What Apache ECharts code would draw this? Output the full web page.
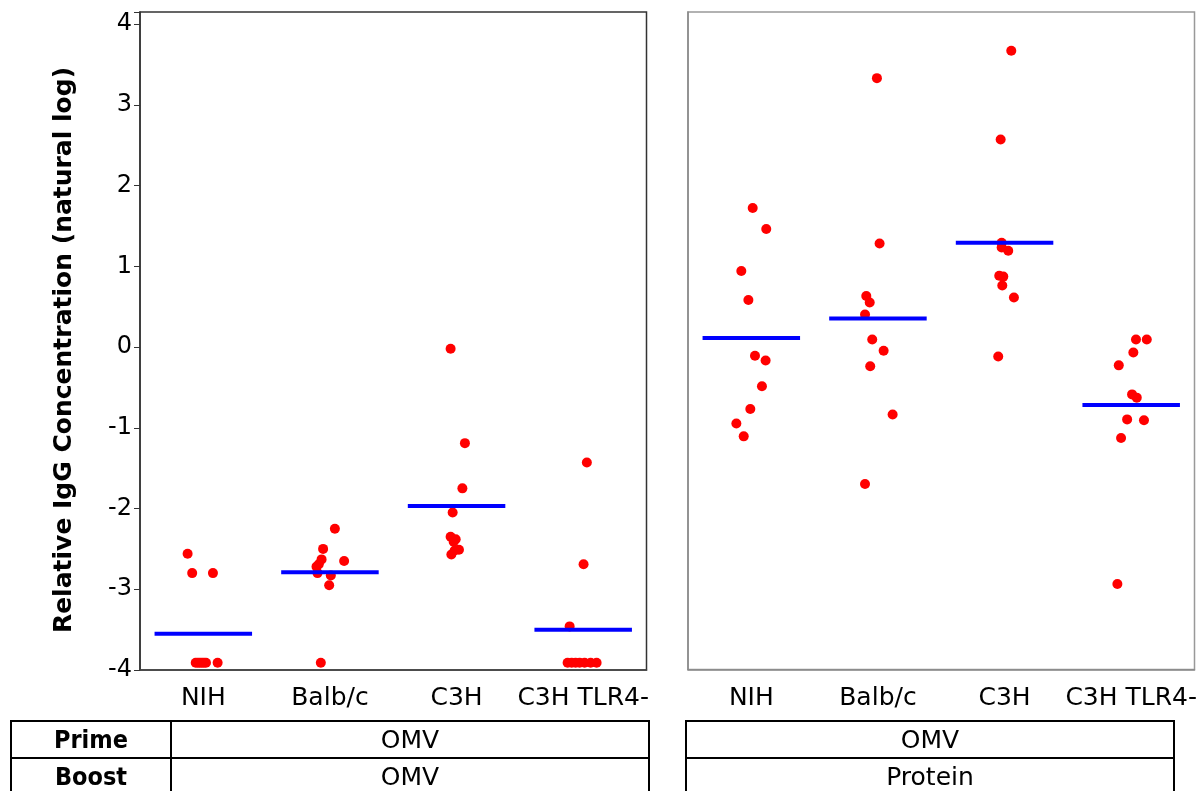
<!DOCTYPE html>
<html>
<head>
<meta charset="utf-8">
<script src="https://cdn.jsdelivr.net/npm/echarts@6/dist/echarts.min.js"></script>
<style>
  html, body { margin: 0; padding: 0; background: #fff; }
  #chart { width: 1201px; height: 791px; }
</style>
</head>
<body>
<div id="chart"></div>
<script>
// Mouse strains on the x axis of both panels
const strains = ['NIH', 'Balb/c', 'C3H', 'C3H TLR4-'];
const yTitle = 'Relative IgG Concentration (natural log)';

// Table under the panels: prime / boost regimen for each panel
const regimenRows = ['Prime', 'Boost'];
const primeByPanel = ['OMV', 'OMV'];
const boostByPanel = ['OMV', 'Protein'];

// Panel 1: OMV prime, OMV boost (natural-log relative IgG)
const omvNIH  = [-2.56, -2.80, -2.80, -3.91, -3.91, -3.91, -3.91, -3.91, -3.91, -3.91];
const omvBalb = [-2.25, -2.50, -2.63, -2.65, -2.72, -2.80, -2.83, -2.95, -3.91, -2.69];
const omvC3H  = [-0.02, -1.19, -1.75, -2.05, -2.35, -2.41, -2.51, -2.57, -2.38, -2.52];
const omvTLR4 = [-1.43, -2.69, -3.46, -3.91, -3.91, -3.91, -3.91, -3.91, -3.91, -3.91];
const omvMeans = [-3.55, -2.79, -1.97, -3.50];

// Panel 2: OMV prime, protein boost
const protNIH  = [1.72, 1.46, 0.94, 0.58, -0.11, -0.17, -0.49, -0.77, -0.95, -1.11];
const protBalb = [3.33, 1.28, 0.63, 0.55, 0.40, 0.09, -0.05, -0.24, -0.84, -1.70];
const protC3H  = [3.67, 2.57, 1.29, 1.23, 1.19, 0.88, 0.87, 0.76, 0.61, -0.12];
const protTLR4 = [0.09, 0.09, -0.07, -0.23, -0.59, -0.63, -0.90, -0.91, -1.13, -2.94];
const protMeans = [0.11, 0.35, 1.29, -0.72];

// Horizontal jitter of each animal, in category units
const omvNIHJit  = [-0.124, -0.088, 0.076, -0.06, -0.043, -0.027, -0.011, 0.005, 0.021, 0.113];
const omvBalbJit = [0.039, -0.054, -0.066, 0.112, -0.106, -0.098, 0.007, -0.006, -0.072, -0.088];
const omvC3HJit  = [-0.047, 0.066, 0.046, -0.031, -0.047, -0.023, 0.019, -0.041, -0.007, -0.015];
const omvTLR4Jit = [0.029, 0.003, -0.107, -0.123, -0.091, -0.06, -0.028, 0.011, 0.059, 0.106];
const protNIHJit  = [0.011, 0.118, -0.079, -0.023, 0.029, 0.113, 0.084, -0.008, -0.118, -0.06];
const protBalbJit = [-0.008, 0.013, -0.092, -0.065, -0.102, -0.045, 0.045, -0.061, 0.116, -0.102];
const protC3HJit  = [0.053, -0.031, -0.023, -0.023, 0.029, -0.042, -0.01, -0.018, 0.074, -0.05];
const protTLR4Jit = [0.038, 0.123, 0.017, -0.098, 0.007, 0.044, -0.032, 0.101, -0.08, -0.109];

const FONT = "'DejaVu Sans', sans-serif";
const FONT_COND = "'DejaVu Sans Condensed', 'DejaVu Sans', sans-serif";

function points(groups, jitters) {
  const out = [];
  groups.forEach((vals, gi) => {
    vals.forEach((v, k) => out.push([gi + jitters[gi][k], v]));
  });
  return out;
}

const omvPoints = points([omvNIH, omvBalb, omvC3H, omvTLR4],
                         [omvNIHJit, omvBalbJit, omvC3HJit, omvTLR4Jit]);
const protPoints = points([protNIH, protBalb, protC3H, protTLR4],
                          [protNIHJit, protBalbJit, protC3HJit, protTLR4Jit]);

const MEAN_HALF = 0.385;

// Group mean drawn as a short horizontal bar centred on its category
function meanBar(params, api) {
  const x = api.value(0), y = api.value(1);
  const a = api.coord([x - MEAN_HALF, y]);
  const b = api.coord([x + MEAN_HALF, y]);
  return {
    type: 'line',
    shape: { x1: a[0], y1: a[1], x2: b[0], y2: b[1] },
    style: { stroke: '#0000ff', lineWidth: 4 }
  };
}

function catAxis(gridIndex, lineColor) {
  return {
    type: 'category', gridIndex, data: strains, boundaryGap: true,
    axisLine: { onZero: false, lineStyle: { color: lineColor, width: 1.5 } },
    axisTick: { alignWithLabel: true, length: 8, lineStyle: { color: lineColor } },
    axisLabel: { interval: 0, color: '#000', fontSize: 25, fontFamily: FONT, margin: 16 },
    splitLine: { show: false }
  };
}
function valXAxis(gridIndex) {
  return {
    type: 'value', gridIndex, min: -0.5, max: 3.5, show: false,
    axisLine: { onZero: false }, splitLine: { show: false }
  };
}
function yAxis(gridIndex, withLabels, lineColor) {
  return {
    type: 'value', gridIndex, min: -4, max: 4.15, interval: 1,
    axisLine: { show: true, onZero: false, lineStyle: { color: lineColor, width: 1.5 } },
    axisTick: { show: withLabels, length: 6, lineStyle: { color: lineColor } },
    axisLabel: {
      show: withLabels, color: '#000', fontSize: 24, fontFamily: FONT, margin: 8,
      formatter: v => (Math.abs(v - Math.round(v)) < 1e-6 ? String(Math.round(v)) : '')
    },
    splitLine: { show: false }
  };
}

const chart = echarts.init(document.getElementById('chart'), null, { renderer: 'canvas' });

const graphics = [];

// Rotated y-axis title
graphics.push({
  type: 'text', x: 64, y: 350, rotation: Math.PI / 2,
  style: { text: yTitle, fill: '#000', font: 'bold 25px ' + FONT, align: 'center', verticalAlign: 'middle' }
});

// Table under the panels
const tableTop = 721, rowH = 37;
const tables = [
  { x: 11, w: 638, labelCol: 160 },
  { x: 686, w: 488, labelCol: 0 }
];
tables.forEach((t, pi) => {
  graphics.push({
    type: 'rect', shape: { x: t.x, y: tableTop, width: t.w, height: rowH * 2 },
    style: { fill: 'none', stroke: '#000', lineWidth: 2 }
  });
  graphics.push({
    type: 'line', shape: { x1: t.x, y1: tableTop + rowH, x2: t.x + t.w, y2: tableTop + rowH },
    style: { stroke: '#000', lineWidth: 2 }
  });
  if (t.labelCol) {
    graphics.push({
      type: 'line', shape: { x1: t.x + t.labelCol, y1: tableTop, x2: t.x + t.labelCol, y2: tableTop + rowH * 2 },
      style: { stroke: '#000', lineWidth: 2 }
    });
    regimenRows.forEach((r, ri) => graphics.push({
      type: 'text', x: t.x + t.labelCol / 2, y: tableTop + rowH * ri + rowH / 2 + 2,
      style: { text: r, fill: '#000', font: 'bold 25px ' + FONT_COND, align: 'center', verticalAlign: 'middle' }
    }));
  }
  const cx = t.x + t.labelCol + (t.w - t.labelCol) / 2;
  [primeByPanel[pi], boostByPanel[pi]].forEach((txt, ri) => graphics.push({
    type: 'text', x: cx, y: tableTop + rowH * ri + rowH / 2 + 2,
    style: { text: txt, fill: '#000', font: '25px ' + FONT, align: 'center', verticalAlign: 'middle' }
  }));
});

chart.setOption({
  animation: false,
  backgroundColor: '#fff',
  grid: [
    { left: 140, top: 12, width: 506.5, height: 658, show: true, borderColor: '#333', borderWidth: 1.5, backgroundColor: 'transparent' },
    { left: 688, top: 12, width: 506.5, height: 657.5, show: true, borderColor: '#999', borderWidth: 1.5, backgroundColor: 'transparent' }
  ],
  xAxis: [catAxis(0, '#444'), valXAxis(0), catAxis(1, '#888'), valXAxis(1)],
  yAxis: [yAxis(0, true, '#333'), yAxis(1, false, '#888')],
  series: [
    { type: 'scatter', xAxisIndex: 1, yAxisIndex: 0, data: omvPoints, symbolSize: 10,
      itemStyle: { color: '#ff0000', opacity: 1 }, z: 2 },
    { type: 'custom', xAxisIndex: 1, yAxisIndex: 0, data: omvMeans.map((m, i) => [i, m]),
      renderItem: meanBar, z: 3 },
    { type: 'scatter', xAxisIndex: 3, yAxisIndex: 1, data: protPoints, symbolSize: 10,
      itemStyle: { color: '#ff0000', opacity: 1 }, z: 2 },
    { type: 'custom', xAxisIndex: 3, yAxisIndex: 1, data: protMeans.map((m, i) => [i, m]),
      renderItem: meanBar, z: 3 }
  ],
  graphic: graphics
});
</script>
</body>
</html>
